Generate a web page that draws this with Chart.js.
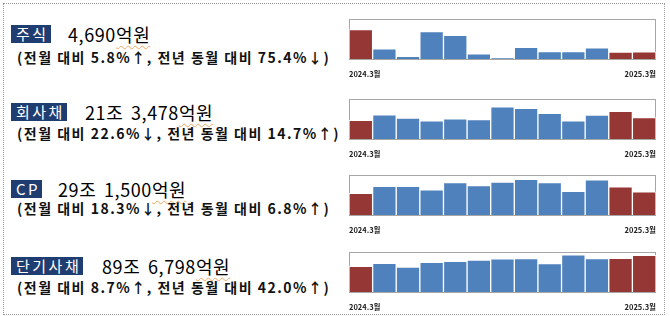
<!DOCTYPE html>
<html>
<head>
<meta charset="utf-8">
<script src="https://cdn.jsdelivr.net/npm/chart.js@4.4.1/dist/chart.umd.min.js"></script>
<style>
  body { margin: 0; background: #fff; font-family: "Noto Sans CJK KR", "Noto Sans", sans-serif; }
  #wrap { position: relative; width: 670px; height: 316px; overflow: hidden; }
  #frame { position: absolute; left: 3px; top: 3px; width: 660px; height: 310px; border: 1px dotted #9a9a9a; }
  .tag { position: absolute; left: 11px; height: 18px; line-height: 18px; padding: 0 2px 0 5px; background: #1F3D70; color: #fff; font-size: 15px; letter-spacing: 2.5px; }
  .amt { position: absolute; font-size: 18px; line-height: 20px; color: #000; letter-spacing: 0.6px; word-spacing: 3px; }
  .amt .u { text-decoration: underline wavy #f0a860; text-decoration-thickness: 1px; text-underline-offset: 3px; }
  .chg { position: absolute; left: 17px; font-size: 14px; font-weight: bold; color: #111; line-height: 16px; letter-spacing: 1.5px; }
  .box { position: absolute; left: 338px; width: 329px; }
</style>
</head>
<body>
<div id="wrap">
  <div id="frame"></div>
</div>
<script>
// ============================================
// 자금조달 현황 - 최근 13개월 추이
// ============================================

const months = ['2024.3월', '2024.4월', '2024.5월', '2024.6월', '2024.7월', '2024.8월', '2024.9월',
                '2024.10월', '2024.11월', '2024.12월', '2025.1월', '2025.2월', '2025.3월'];

// 억원 단위
const stockValues = [19065, 6600, 1800, 17800, 15400, 3400, 600, 7600, 4800, 4800, 7200, 4433, 4690];
const bondValues  = [186100, 241000, 210000, 182000, 201000, 195000, 321000, 306000, 256000, 182000, 238000, 275800, 213478];
const cpValues    = [272900, 362000, 362000, 319000, 408000, 373000, 416000, 451000, 408000, 300000, 443000, 356800, 291500];
const stbValues   = [631500, 705000, 613000, 728000, 751000, 782000, 812000, 820000, 698000, 912000, 820000, 825000, 896798];

const tags    = ['주식', '회사채', 'CP', '단기사채'];
const amounts = [['4,690', '억원'], ['21조 3,478', '억원'], ['29조 1,500', '억원'], ['89조 6,798', '억원']];
const changes = [
    '(전월 대비 5.8%↑, 전년 동월 대비 75.4%↓)',
    '(전월 대비 22.6%↓, 전년 동월 대비 14.7%↑)',
    '(전월 대비 18.3%↓, 전년 동월 대비 6.8%↑)',
    '(전월 대비 8.7%↑, 전년 동월 대비 42.0%↑)'
];
const yMax = [26000, 400000, 505000, 980000];
const highlight = [0, 11, 12]; // 비교 기준 월

const COLORS = {
    red: '#953735',
    blue: '#4F81BD',
    frame: '#a6a6a6'
};

// panel layout (px)
const panels = [
    { tagTop: 25, amtLeft: 68, subTop: 49, boxTop: 18 },
    { tagTop: 103, amtLeft: 85, subTop: 125, boxTop: 98 },
    { tagTop: 180, amtLeft: 58, subTop: 200, boxTop: 174 },
    { tagTop: 257, amtLeft: 102, subTop: 279, boxTop: 251 }
];

const seriesList = [stockValues, bondValues, cpValues, stbValues];

const areaFrame = {
    id: 'areaFrame',
    beforeDatasetsDraw(chart) {
        const a = chart.chartArea;
        const ctx = chart.ctx;
        ctx.save();
        ctx.strokeStyle = COLORS.frame;
        ctx.lineWidth = 1;
        ctx.strokeRect(Math.round(a.left) + 0.5, Math.round(a.top) + 0.5, Math.round(a.right - a.left) - 1, Math.round(a.bottom - a.top));
        ctx.restore();
    }
};

const wrap = document.getElementById('wrap');

panels.forEach((p, i) => {
    const tag = document.createElement('div');
    tag.className = 'tag';
    tag.style.top = p.tagTop + 'px';
    tag.textContent = tags[i];
    wrap.appendChild(tag);

    const amt = document.createElement('div');
    amt.className = 'amt';
    amt.style.left = p.amtLeft + 'px';
    amt.style.top = (p.tagTop - 1) + 'px';
    amt.innerHTML = amounts[i][0] + '<span class="u">' + amounts[i][1] + '</span>';
    wrap.appendChild(amt);

    const sub = document.createElement('div');
    sub.className = 'chg';
    sub.style.top = p.subTop + 'px';
    sub.textContent = changes[i];
    wrap.appendChild(sub);

    const box = document.createElement('div');
    box.className = 'box';
    box.style.top = p.boxTop + 'px';
    box.style.height = '72px';
    const canvas = document.createElement('canvas');
    box.appendChild(canvas);
    wrap.appendChild(box);

    const data = seriesList[i];
    new Chart(canvas, {
        type: 'bar',
        data: {
            labels: months,
            datasets: [{
                data,
                backgroundColor: data.map((_, k) => highlight.includes(k) ? COLORS.red : COLORS.blue),
                borderColor: 'rgba(255,255,255,0.85)',
                borderWidth: 1,
                barPercentage: 1,
                categoryPercentage: 1
            }]
        },
        options: {
            responsive: true,
            maintainAspectRatio: false,
            animation: false,
            layout: { padding: { left: 0, right: 0, top: 1, bottom: 0 } },
            plugins: { legend: { display: false }, tooltip: { enabled: false } },
            scales: {
                y: { display: false, min: 0, max: yMax[i] },
                x: { display: false },
                // 첫/마지막 월만 양 끝에 표시
                xLabels: {
                    type: 'category',
                    labels: months,
                    offset: false,
                    position: 'bottom',
                    grid: { display: false, drawTicks: false },
                    border: { display: false },
                    ticks: {
                        autoSkip: false,
                        maxRotation: 0,
                        align: 'inner',
                        padding: 11,
                        color: '#222',
                        font: { size: 7.5, weight: 'bold', family: '"Noto Sans CJK KR", sans-serif' },
                        callback: (v, idx) => (idx === 0 || idx === months.length - 1) ? months[idx] : ''
                    }
                }
            }
        },
        plugins: [areaFrame]
    });
});
</script>
</body>
</html>
